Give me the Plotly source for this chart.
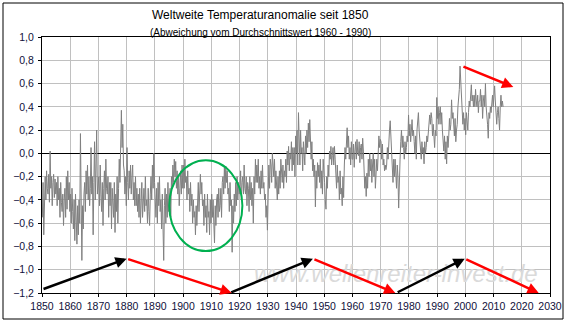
import plotly.graph_objects as go

# Monthly-ish global temperature anomaly, four readings per year (deg C vs. 1960-1990 mean)
t1850s = [-0.55, -0.25, -0.70, -0.35, -0.20, -0.40, -0.15, -0.30, -0.35, -0.18, -0.42, 0.02,
          -0.30, -0.20, -0.45, -0.25, -0.18, -0.38, -0.22, -0.35, -0.25, -0.45, -0.20, -0.40,
          -0.30, -0.55, -0.25, -0.42, -0.50, -0.35, -0.62, -0.40, -0.30, -0.55, -0.20, -0.48,
          -0.15, -0.40, -0.25, -0.50]
t1860s = [-0.35, -0.60, -0.30, -0.50, -0.65, -0.40, -0.75, -0.35, -0.55, -0.78, -0.45, -0.70,
          -0.40, -0.60, 0.17, -0.30, -0.92, -0.45, -0.65, -0.35, -0.25, -0.50, -0.15, -0.35,
          -0.10, -0.40, -0.20, -0.45, -0.30, 0.05, -0.35, -0.20, -0.70, -0.25, 0.10, -0.40,
          -0.15, 0.20, -0.35, -0.25]
t1870s = [-0.20, -0.45, -0.10, -0.35, -0.50, -0.25, -0.62, -0.30, -0.15, -0.40, -0.05, -0.30,
          -0.35, -0.20, -0.55, -0.25, -0.45, -0.25, -0.65, -0.30, -0.40, -0.55, -0.25, -0.68,
          -0.35, -0.50, -0.20, -0.60, -0.30, -0.05, -0.25, 0.10, 0.37, 0.05, 0.25, -0.10,
          -0.15, -0.35, -0.20, -0.45]
t1880s = [0.05, -0.25, -0.40, -0.15, -0.30, -0.10, -0.35, -0.20, -0.10, -0.40, -0.25, -0.45,
          -0.20, -0.45, -0.30, -0.50, -0.35, -0.55, -0.30, -0.60, -0.45, -0.25, -0.55, -0.35,
          -0.30, -0.50, -0.20, -0.45, -0.40, -0.60, -0.30, -0.50, -0.62, -0.35, -0.20, -0.40,
          -0.10, -0.30, 0.00, -0.25]
t1890s = [-0.35, -0.55, -0.30, -0.60, -0.25, -0.45, -0.20, -0.50, -0.40, -0.65, -0.35, -0.55,
          -0.92, -0.45, -0.30, -0.60, -0.35, -0.55, -0.25, -0.50, -0.45, -0.30, -0.55, -0.20,
          -0.30, -0.10, -0.25, -0.05, -0.20, -0.07, -0.30, -0.15, -0.35, -0.20, -0.45, -0.30,
          -0.15, -0.35, -0.10, -0.30]
t1900s = [-0.10, -0.30, -0.05, -0.25, -0.20, -0.40, -0.15, -0.35, -0.30, -0.50, -0.25, -0.45,
          -0.35, -0.60, -0.40, -0.55, -0.50, -0.70, -0.45, -0.62, -0.40, -0.25, -0.50, -0.30,
          -0.18, -0.35, -0.25, -0.45, -0.40, -0.62, -0.35, -0.55, -0.45, -0.68, -0.35, -0.55,
          -0.50, -0.70, -0.40, -0.60]
t1910s = [-0.35, -0.55, -0.40, -0.60, -0.77, -0.45, -0.62, -0.40, -0.35, -0.55, -0.30, -0.50,
          -0.45, -0.30, -0.55, -0.25, -0.20, -0.35, -0.12, -0.30, -0.11, -0.25, -0.15, -0.35,
          -0.30, -0.50, -0.25, -0.45, -0.40, -0.85, -0.45, -0.60, -0.35, -0.50, -0.25, -0.45,
          -0.20, -0.40, -0.25, -0.35]
t1920s = [-0.30, -0.15, -0.40, -0.25, -0.20, -0.35, -0.10, -0.30, -0.35, -0.20, -0.45, -0.25,
          -0.30, -0.50, -0.20, -0.40, -0.25, -0.45, -0.30, -0.60, -0.20, -0.35, -0.05, -0.25,
          -0.10, -0.25, -0.05, -0.30, -0.20, -0.35, -0.15, -0.30, -0.10, -0.30, -0.25, -0.40,
          -0.35, -0.55, -0.45, -0.66]
t1930s = [-0.25, -0.10, -0.30, -0.05, -0.10, -0.25, 0.00, -0.15, -0.20, -0.05, -0.30, -0.15,
          -0.25, -0.40, -0.20, -0.35, -0.15, -0.30, -0.05, -0.20, -0.25, -0.10, -0.30, -0.15,
          -0.20, -0.05, -0.25, 0.02, -0.10, 0.06, -0.15, 0.00, -0.05, 0.10, -0.15, 0.05,
          -0.10, 0.05, -0.20, 0.15]
t1940s = [0.00, 0.20, -0.10, 0.35, 0.10, -0.10, 0.20, 0.00, 0.05, -0.15, 0.10, -0.05,
          -0.10, 0.15, 0.00, 0.20, 0.05, 0.26, 0.10, 0.29, 0.15, -0.05, 0.10, -0.15,
          -0.05, -0.20, -0.10, -0.46, -0.15, -0.30, -0.08, -0.20, -0.10, -0.25, -0.05, -0.30,
          -0.15, -0.35, -0.05, -0.25]
t1950s = [-0.25, -0.40, -0.48, -0.20, -0.30, -0.10, -0.20, 0.02, -0.05, 0.06, -0.10, -0.02,
          0.05, -0.10, 0.06, -0.05, -0.14, -0.30, -0.10, -0.25, -0.20, -0.40, -0.15, -0.35,
          -0.30, -0.45, -0.20, -0.38, -0.10, 0.05, -0.05, 0.10, 0.22, 0.05, 0.15, -0.05,
          0.05, -0.10, 0.10, -0.05]
t1960s = [-0.05, 0.08, -0.12, 0.02, 0.10, -0.05, 0.12, 0.00, -0.02, 0.10, -0.08, 0.05,
          0.08, -0.05, 0.13, 0.02, -0.15, -0.30, -0.20, -0.37, -0.17, -0.30, -0.05, -0.20,
          0.00, -0.15, -0.05, -0.25, -0.10, 0.00, -0.20, -0.05, -0.30, -0.10, -0.05, -0.15,
          0.00, 0.15, 0.05, 0.12]
t1970s = [0.10, -0.05, 0.08, -0.10, -0.05, -0.15, -0.10, -0.14, -0.10, 0.05, -0.05, 0.15,
          0.20, 0.28, 0.10, 0.00, -0.10, -0.25, -0.05, -0.20, -0.05, -0.15, -0.30, -0.10,
          -0.20, -0.47, -0.15, -0.05, 0.10, 0.20, 0.05, 0.15, 0.05, -0.05, 0.10, 0.00,
          0.05, 0.15, 0.10, 0.33]
t1980s = [0.15, 0.25, 0.10, 0.20, 0.29, 0.15, 0.20, 0.10, 0.00, 0.15, -0.05, 0.20,
          0.25, 0.35, 0.20, 0.10, 0.05, -0.05, 0.10, 0.00, 0.05, -0.09, 0.10, 0.00,
          0.05, 0.15, 0.10, 0.20, 0.20, 0.33, 0.25, 0.35, 0.30, 0.15, 0.25, 0.10,
          0.05, 0.20, 0.15, 0.48]
t1990s = [0.30, 0.40, 0.25, 0.35, 0.40, 0.25, 0.35, 0.20, 0.10, 0.02, 0.15, -0.05,
          0.10, -0.09, 0.15, 0.05, 0.15, 0.30, 0.20, 0.25, 0.46, 0.30, 0.35, 0.25,
          0.15, 0.30, 0.10, 0.20, 0.25, 0.40, 0.45, 0.55, 0.75, 0.60, 0.55, 0.45,
          0.25, 0.35, 0.20, 0.30]
t2000s = [0.16, 0.35, 0.30, 0.20, 0.35, 0.45, 0.40, 0.50, 0.59, 0.45, 0.50, 0.40,
          0.50, 0.40, 0.55, 0.45, 0.40, 0.50, 0.35, 0.45, 0.45, 0.55, 0.40, 0.50,
          0.30, 0.45, 0.50, 0.40, 0.60, 0.40, 0.35, 0.25, 0.13, 0.35, 0.30, 0.40,
          0.35, 0.45, 0.50, 0.40]
t2010s = [0.50, 0.58, 0.45, 0.35, 0.25, 0.35, 0.40, 0.30, 0.20, 0.40, 0.50, 0.40,
          0.45, 0.40]

anomaly = (t1850s + t1860s + t1870s + t1880s + t1890s + t1900s + t1910s + t1920s
           + t1930s + t1940s + t1950s + t1960s + t1970s + t1980s + t1990s + t2000s + t2010s)
first_year = 1850
per_year = 4
time = [first_year + (i + 0.5) / per_year for i in range(len(anomaly))]

# Trend arrows: (from year, from value, to year, to value)
rising = [(1850, -1.17, 1880, -0.905), (1916.5, -1.2, 1946, -0.905), (1975.5, -1.2, 1999.8, -0.905)]
falling = [(1880, -0.905, 1917.2, -1.2), (1946, -0.905, 1975.2, -1.2), (1999.8, -0.905, 2026, -1.2),
           (1998.8, 0.75, 2017, 0.57)]

# Highlighted cold phase
cold_phase = dict(x0=1895.1, x1=1921.0, y0=-0.84, y1=-0.06)

title = "Weltweite Temperaturanomalie seit 1850"
subtitle = "(Abweichung vom Durchschnittswert 1960 - 1990)"
watermark = "www.wellenreiter-invest.de"

W, H = 569, 323
ML, MR, MT, MB = 42, 19, 37, 30
pw, ph = W - ML - MR, H - MT - MB


def px_x(px):
    return (px - ML) / pw


def px_y(py):
    return (H - MB - py) / ph


fig = go.Figure()
fig.add_trace(go.Scatter(x=time, y=anomaly, mode="lines",
                         line=dict(color="#808080", width=1), hoverinfo="skip"))

label_color = "#10103a"
annotations = [
    dict(text=title, x=px_x(260), y=px_y(15), xref="paper", yref="paper",
         showarrow=False, xanchor="center", yanchor="middle",
         font=dict(family="Arial, Liberation Sans", size=12, color="#000000")),
    dict(text=subtitle, x=px_x(260), y=px_y(32), xref="paper", yref="paper",
         showarrow=False, xanchor="center", yanchor="middle",
         font=dict(family="Arial, Liberation Sans", size=10, color="#000000")),
    dict(text="<i>" + watermark + "</i>", x=1975.5, y=-1.035, xref="x", yref="y",
         showarrow=False, xanchor="center", yanchor="middle",
         font=dict(family="Arial, Liberation Sans", size=24, color="#dadada")),
]
for (x0, y0, x1, y1), col in [(s, "#000000") for s in rising] + [(s, "#ff0000") for s in falling]:
    annotations.append(dict(x=x1, y=y1, ax=x0, ay=y0, xref="x", yref="y", axref="x", ayref="y",
                            text="", showarrow=True, arrowhead=2, arrowsize=0.9,
                            arrowwidth=2.5, arrowcolor=col))

shapes = [
    dict(type="circle", xref="x", yref="y", line=dict(color="#00b050", width=2), **cold_phase),
    dict(type="rect", xref="paper", yref="paper", x0=px_x(3), x1=px_x(563), y0=px_y(319), y1=px_y(3),
         line=dict(color="#000000", width=1)),
]

axis_font = dict(family="Arial, Liberation Sans", size=10.5, color=label_color)
fig.update_layout(
    width=W, height=H, margin=dict(l=ML, r=MR, t=MT, b=MB, pad=0),
    paper_bgcolor="white", plot_bgcolor="white", showlegend=False,
    separators=",.",
    annotations=annotations, shapes=shapes,
    xaxis=dict(range=[1850, 2030], dtick=10, tick0=1850, tickformat="d",
               showgrid=True, gridcolor="#c0c0c0", gridwidth=1, zeroline=False,
               showline=True, linecolor="#000000", linewidth=1, mirror=True,
               ticks="outside", ticklen=3, tickcolor="#000000", tickfont=axis_font,
               automargin=False),
    yaxis=dict(range=[-1.2, 1.0], dtick=0.2, tick0=-1.2, tickformat=".1f",
               showgrid=True, gridcolor="#c0c0c0", gridwidth=1,
               zeroline=True, zerolinecolor="#000000", zerolinewidth=1,
               showline=True, linecolor="#000000", linewidth=1, mirror=True,
               ticks="outside", ticklen=3, tickcolor="#000000", tickfont=axis_font,
               ticklabelstandoff=2, automargin=False),
)

fig.write_html("out.html")
